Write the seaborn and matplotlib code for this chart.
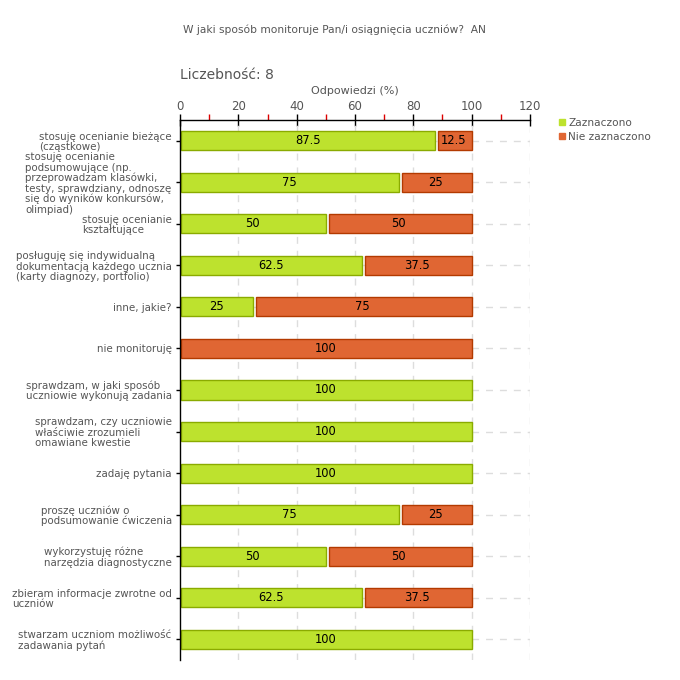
import matplotlib
matplotlib.use("Agg")
import matplotlib.pyplot as plt
from matplotlib.lines import Line2D
from matplotlib.ticker import MultipleLocator
import seaborn as sns
import pandas as pd

# data
categories = [
    "stosuję ocenianie bieżące\n(cząstkowe)",
    "stosuję ocenianie\npodsumowujące (np.\nprzeprowadzam klasówki,\ntesty, sprawdziany, odnoszę\nsię do wyników konkursów,\nolimpiad)",
    "stosuję ocenianie\nkształtujące",
    "posługuję się indywidualną\ndokumentacją każdego ucznia\n(karty diagnozy, portfolio)",
    "inne, jakie?",
    "nie monitoruję",
    "sprawdzam, w jaki sposób\nuczniowie wykonują zadania",
    "sprawdzam, czy uczniowie\nwłaściwie zrozumieli\nomawiane kwestie",
    "zadaję pytania",
    "proszę uczniów o\npodsumowanie ćwiczenia",
    "wykorzystuję różne\nnarzędzia diagnostyczne",
    "zbieram informacje zwrotne od\nuczniów",
    "stwarzam uczniom możliwość\nzadawania pytań",
]
zaznaczono = [87.5, 75, 50, 62.5, 25, 0, 100, 100, 100, 75, 50, 62.5, 100]
nie_zaznaczono = [12.5, 25, 50, 37.5, 75, 100, 0, 0, 0, 25, 50, 37.5, 0]

title = "W jaki sposób monitoruje Pan/i osiągnięcia uczniów?  AN"
count_label = "Liczebność: 8"

GREEN, GREEN_EDGE = "#bde22e", "#8aab00"
ORANGE, ORANGE_EDGE = "#e06633", "#b33a00"
GRAY = "#555555"
GAP = 1.0

df = pd.DataFrame({"cat": categories, "yes": zaznaczono, "no": nie_zaznaczono})

sns.set_style("white")
plt.rcParams["font.family"] = ["DejaVu Sans"]

fig = plt.figure(figsize=(6.8, 6.8), dpi=100)
ax = fig.add_axes([180 / 680, 1 - 660 / 680, 350 / 680, 540 / 680])

# horizontal dashed guides behind bars
for i in range(len(categories)):
    ax.axhline(i, color="#dddddd", lw=1, ls=(0, (5, 5)), zorder=0)

sns.barplot(data=df, x="yes", y="cat", orient="h", color=GREEN, saturation=1,
            edgecolor=GREEN_EDGE, linewidth=1, width=0.46, ax=ax, zorder=2)
# shift green bars slightly off the spine
for p in ax.patches:
    p.set_x(p.get_x() + GAP / 2)
    p.set_width(max(p.get_width() - GAP / 2, 0))
    if p.get_width() == 0:
        p.set_visible(False)

no_left = [v + GAP if v > 0 else GAP / 2 for v in zaznaczono]
no_width = [n - GAP if (n > 0 and y > 0) else n - GAP / 2 for n, y in zip(nie_zaznaczono, zaznaczono)]
ypos = list(range(len(categories)))
for y, l, w, n in zip(ypos, no_left, no_width, nie_zaznaczono):
    if n > 0:
        ax.barh(y, w, left=l, height=0.46, color=ORANGE, edgecolor=ORANGE_EDGE, linewidth=1, zorder=2)

# value labels
for y, a, b in zip(ypos, zaznaczono, nie_zaznaczono):
    if a > 0:
        ax.text(a / 2, y, f"{a:g}", ha="center", va="center", fontsize=8.3, color="black", zorder=3)
    if b > 0:
        ax.text(a + b / 2, y, f"{b:g}", ha="center", va="center", fontsize=8.3, color="black", zorder=3)

ax.set_xlim(0, 120)
ax.set_ylim(len(categories) - 0.5, -0.5)
ax.xaxis.set_major_locator(MultipleLocator(20))
ax.xaxis.set_minor_locator(MultipleLocator(10))
ax.xaxis.tick_top()
ax.xaxis.set_label_position("top")
ax.set_xlabel("Odpowiedzi (%)", fontsize=8, color=GRAY, labelpad=4)
ax.set_ylabel("")
ax.tick_params(axis="x", which="major", direction="inout", length=8, width=1,
               color="black", labelsize=8.5, labelcolor=GRAY, pad=1)
ax.tick_params(axis="x", which="minor", direction="out", length=4, width=1, color="#dd0000")
ax.tick_params(axis="y", direction="out", length=3, width=1, color="black",
               labelsize=7.4, labelcolor=GRAY, pad=3, left=True)
for lbl in ax.get_yticklabels():
    lbl.set_multialignment("left")
    lbl.set_linespacing(1.03)

for x in range(20, 121, 20):
    ax.axvline(x, color="#dddddd", lw=1, ls=(0, (5, 5)), zorder=1)

for side in ["right", "bottom"]:
    ax.spines[side].set_visible(False)
for side in ["top", "left"]:
    ax.spines[side].set_color("black")
    ax.spines[side].set_linewidth(1)

fig.text(334 / 680, 1 - 30 / 680, title, ha="center", va="center", fontsize=7.7, color=GRAY)
fig.text(180 / 680, 1 - 75 / 680, count_label, ha="left", va="center", fontsize=10, color=GRAY)

handles = [Line2D([], [], marker="s", ls="", markersize=5, color=GREEN),
           Line2D([], [], marker="s", ls="", markersize=5, color=ORANGE)]
fig.legend(handles, ["Zaznaczono", "Nie zaznaczono"], loc="upper left",
           bbox_to_anchor=(559 / 680, 1 - 118 / 680), frameon=False, fontsize=7.6,
           handlelength=0.6, handletextpad=0.3, labelspacing=0.35, labelcolor=GRAY,
           borderaxespad=0, borderpad=0)

fig.savefig("out.png", dpi=100)
